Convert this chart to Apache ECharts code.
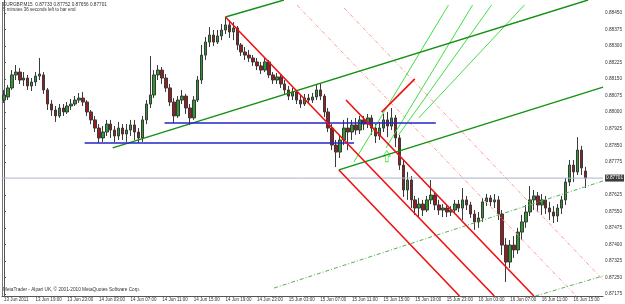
<!DOCTYPE html>
<html>
<head>
<meta charset="utf-8">
<title>EURGBP,M15</title>
<script src="https://cdn.jsdelivr.net/npm/echarts@6.0.0/dist/echarts.min.js"></script>
<style>
  html, body { margin: 0; padding: 0; background: #fff; }
  #chart { width: 625px; height: 304px; }
</style>
</head>
<body>
<div id="chart"></div>
<script>
// time labels every 8 bars
var xLabels = ['13 Jun 2011', '13 Jun 19:00', '13 Jun 23:00', '14 Jun 03:00', '14 Jun 07:00', '14 Jun 11:00',
  '14 Jun 15:00', '14 Jun 19:00', '14 Jun 23:00', '15 Jun 03:00', '15 Jun 07:00', '15 Jun 11:00',
  '15 Jun 15:00', '15 Jun 19:00', '15 Jun 23:00', '16 Jun 03:00', '16 Jun 07:00', '16 Jun 11:00', '16 Jun 15:00']
var yTicks = [0.87175, 0.87250, 0.87325, 0.87400, 0.87475, 0.87550, 0.87625, 0.87775, 0.87850,
  0.87925, 0.88000, 0.88075, 0.88150, 0.88225, 0.88300, 0.88375, 0.88450]

var opens = [
  0.88055, 0.88069, 0.88110, 0.88169, 0.88182, 0.88146, 0.88155, 0.88119, 0.88137, 0.88164,
  0.88169, 0.88101, 0.88037, 0.88010, 0.87983, 0.88019, 0.88001, 0.88028, 0.88037, 0.88055,
  0.88064, 0.88046, 0.88001, 0.87965, 0.87928, 0.87883, 0.87910, 0.87946, 0.87919, 0.87892,
  0.87928, 0.87901, 0.87919, 0.87942, 0.87910, 0.87883, 0.87965, 0.88037, 0.88078, 0.88169,
  0.88191, 0.88155, 0.88110, 0.88046, 0.87983, 0.88055, 0.88073, 0.88019, 0.87974, 0.88055,
  0.88146, 0.88259, 0.88318, 0.88350, 0.88318, 0.88346, 0.88373, 0.88396, 0.88364, 0.88382,
  0.88305, 0.88273, 0.88259, 0.88246, 0.88228, 0.88210, 0.88191, 0.88228, 0.88169, 0.88146,
  0.88160, 0.88128, 0.88101, 0.88073, 0.88092, 0.88055, 0.88037, 0.88064, 0.88055, 0.88069,
  0.88101, 0.88073, 0.88001, 0.87928, 0.87851, 0.87819, 0.87874, 0.87928, 0.87910, 0.87942,
  0.87919, 0.87965, 0.87946, 0.87974, 0.87928, 0.87892, 0.87928, 0.87965, 0.87937, 0.87974,
  0.87883, 0.87760, 0.87647, 0.87692, 0.87602, 0.87565, 0.87583, 0.87556, 0.87602, 0.87624,
  0.87579, 0.87556, 0.87565, 0.87547, 0.87556, 0.87583, 0.87565, 0.87602, 0.87579, 0.87538,
  0.87502, 0.87520, 0.87593, 0.87611, 0.87593, 0.87602, 0.87538, 0.87397, 0.87320, 0.87397,
  0.87375, 0.87456, 0.87502, 0.87547, 0.87602, 0.87620, 0.87579, 0.87602, 0.87565, 0.87547,
  0.87529, 0.87565, 0.87602, 0.87683, 0.87760, 0.87729, 0.87828, 0.87733]
var closes = [
  0.88078, 0.88110, 0.88169, 0.88182, 0.88146, 0.88155, 0.88119, 0.88137, 0.88164, 0.88173,
  0.88101, 0.88037, 0.88010, 0.87983, 0.88019, 0.88001, 0.88028, 0.88037, 0.88055, 0.88064,
  0.88046, 0.88001, 0.87965, 0.87928, 0.87883, 0.87910, 0.87946, 0.87919, 0.87892, 0.87928,
  0.87901, 0.87919, 0.87942, 0.87910, 0.87883, 0.87965, 0.88037, 0.88078, 0.88169, 0.88191,
  0.88155, 0.88110, 0.88046, 0.87983, 0.88055, 0.88073, 0.88019, 0.87974, 0.88055, 0.88146,
  0.88259, 0.88318, 0.88350, 0.88318, 0.88346, 0.88373, 0.88396, 0.88364, 0.88382, 0.88305,
  0.88273, 0.88259, 0.88246, 0.88228, 0.88210, 0.88191, 0.88228, 0.88169, 0.88146, 0.88160,
  0.88128, 0.88101, 0.88073, 0.88092, 0.88055, 0.88037, 0.88064, 0.88055, 0.88069, 0.88101,
  0.88073, 0.88001, 0.87928, 0.87851, 0.87819, 0.87874, 0.87928, 0.87910, 0.87942, 0.87919,
  0.87965, 0.87946, 0.87974, 0.87928, 0.87892, 0.87928, 0.87965, 0.87937, 0.87974, 0.87883,
  0.87760, 0.87647, 0.87692, 0.87602, 0.87565, 0.87583, 0.87556, 0.87602, 0.87624, 0.87579,
  0.87556, 0.87565, 0.87547, 0.87556, 0.87583, 0.87565, 0.87602, 0.87579, 0.87538, 0.87502,
  0.87520, 0.87593, 0.87611, 0.87593, 0.87602, 0.87538, 0.87397, 0.87320, 0.87397, 0.87375,
  0.87456, 0.87502, 0.87547, 0.87602, 0.87620, 0.87579, 0.87602, 0.87565, 0.87547, 0.87529,
  0.87565, 0.87602, 0.87683, 0.87760, 0.87729, 0.87828, 0.87747, 0.87701]
var lows = [
  0.88042, 0.88055, 0.88101, 0.88146, 0.88128, 0.88119, 0.88101, 0.88096, 0.88119, 0.88146,
  0.88083, 0.88010, 0.87983, 0.87956, 0.87974, 0.87983, 0.87992, 0.88010, 0.88028, 0.88042,
  0.88028, 0.87983, 0.87946, 0.87910, 0.87860, 0.87865, 0.87892, 0.87883, 0.87865, 0.87874,
  0.87874, 0.87865, 0.87892, 0.87874, 0.87860, 0.87865, 0.87946, 0.88019, 0.88064, 0.88146,
  0.88128, 0.88092, 0.88028, 0.87951, 0.87974, 0.88037, 0.87992, 0.87942, 0.87965, 0.88046,
  0.88128, 0.88237, 0.88296, 0.88300, 0.88309, 0.88327, 0.88355, 0.88337, 0.88327, 0.88282,
  0.88255, 0.88237, 0.88228, 0.88210, 0.88191, 0.88173, 0.88182, 0.88155, 0.88128, 0.88128,
  0.88110, 0.88083, 0.88055, 0.88055, 0.88037, 0.88019, 0.88028, 0.88037, 0.88042, 0.88055,
  0.88055, 0.87978, 0.87910, 0.87828, 0.87751, 0.87792, 0.87851, 0.87828, 0.87874, 0.87897,
  0.87901, 0.87919, 0.87928, 0.87897, 0.87860, 0.87874, 0.87910, 0.87887, 0.87919, 0.87842,
  0.87738, 0.87615, 0.87602, 0.87565, 0.87534, 0.87524, 0.87529, 0.87547, 0.87583, 0.87556,
  0.87534, 0.87524, 0.87524, 0.87529, 0.87538, 0.87547, 0.87511, 0.87556, 0.87520, 0.87466,
  0.87475, 0.87502, 0.87574, 0.87574, 0.87565, 0.87511, 0.87352, 0.87230, 0.87293, 0.87339,
  0.87357, 0.87420, 0.87475, 0.87529, 0.87556, 0.87547, 0.87534, 0.87538, 0.87511, 0.87497,
  0.87502, 0.87538, 0.87579, 0.87665, 0.87683, 0.87715, 0.87715, 0.87656]
var highs = [
  0.88101, 0.88123, 0.88191, 0.88214, 0.88200, 0.88182, 0.88169, 0.88155, 0.88182, 0.88246,
  0.88182, 0.88110, 0.88055, 0.88028, 0.88037, 0.88037, 0.88046, 0.88060, 0.88073, 0.88087,
  0.88092, 0.88055, 0.88010, 0.87983, 0.87946, 0.87937, 0.87965, 0.87965, 0.87937, 0.87956,
  0.87946, 0.87946, 0.87965, 0.87965, 0.87928, 0.87983, 0.88055, 0.88255, 0.88191, 0.88214,
  0.88205, 0.88173, 0.88128, 0.88064, 0.88073, 0.88101, 0.88083, 0.88037, 0.88073, 0.88164,
  0.88305, 0.88341, 0.88386, 0.88373, 0.88373, 0.88400, 0.88432, 0.88418, 0.88409, 0.88391,
  0.88314, 0.88296, 0.88282, 0.88259, 0.88246, 0.88228, 0.88246, 0.88237, 0.88182, 0.88178,
  0.88173, 0.88146, 0.88119, 0.88110, 0.88101, 0.88078, 0.88083, 0.88083, 0.88087, 0.88123,
  0.88128, 0.88083, 0.88019, 0.87946, 0.87874, 0.87892, 0.87965, 0.87974, 0.87965, 0.87974,
  0.87983, 0.87983, 0.87992, 0.87987, 0.87946, 0.87956, 0.87992, 0.88001, 0.88019, 0.87987,
  0.87897, 0.87783, 0.87729, 0.87710, 0.87620, 0.87611, 0.87602, 0.87620, 0.87692, 0.87638,
  0.87602, 0.87583, 0.87583, 0.87574, 0.87602, 0.87602, 0.87656, 0.87620, 0.87593, 0.87556,
  0.87547, 0.87611, 0.87629, 0.87624, 0.87629, 0.87620, 0.87556, 0.87429, 0.87420, 0.87438,
  0.87475, 0.87534, 0.87579, 0.87665, 0.87647, 0.87638, 0.87629, 0.87620, 0.87593, 0.87574,
  0.87583, 0.87620, 0.87701, 0.87783, 0.87783, 0.87887, 0.87847, 0.87752]
var bidPrice = 0.87701

// objects drawn on the chart: [startBar, startPrice, endBar, endPrice]
var redLines = [
  [56, 0.88432, 124.0, 0.87166],
  [86.5, 0.88055, 134.0, 0.87166],
  [84.7, 0.87738, 115.2, 0.87166],
  [95.5, 0.88000, 103.9, 0.88151]
]
var pinkLines = [
  [74.1, 0.88486, 144.7, 0.87166],
  [86.0, 0.88473, 151.5, 0.87239]
]
var darkGreenLines = [
  [27.5, 0.87838, 147.7, 0.88509],
  [84.7, 0.87738, 151.5, 0.88114],
  [56, 0.88432, 70.8, 0.88509]
]
var lightGreenLines = [
  [88.5, 0.87774, 112.4, 0.88486],
  [96.6, 0.87838, 118.5, 0.88486],
  [99.8, 0.87897, 123.3, 0.88486],
  [104.9, 0.87974, 131.6, 0.88486]
]
var dashGreenLines = [
  [68.3, 0.87202, 151.5, 0.87688],
  [134.4, 0.87166, 151.5, 0.87257]
]
// horizontal lines: [startBar, endBar, price]
var blueLines = [
  [20.4, 88.5, 0.87860],
  [40.6, 109.2, 0.87951]
]
var arrowUp = [[96.8, 0.87801]]

var slots = 152
var categories = []
for (var i = 0; i < slots; i++) categories.push(i)
var candles = opens.map(function (o, i) {
  return [o, closes[i], lows[i], highs[i]]
})

function lineSeries (list, color, width, type) {
  return list.map(function (l) {
    return {
      type: 'line',
      xAxisIndex: 1,
      data: [[l[0], l[1]], [l[2], l[3]]],
      symbol: 'none',
      silent: true,
      lineStyle: { color: color, width: width, type: type }
    }
  })
}

var smallFont = 'Liberation Sans'
var myChart = echarts.init(document.getElementById('chart'))

// bid line first so candles sit on top of it
var series = [{
  type: 'line',
  xAxisIndex: 1,
  data: [[-0.5, bidPrice], [slots - 0.5, bidPrice]],
  symbol: 'none',
  silent: true,
  lineStyle: { color: '#aab4c8', width: 1 },
  endLabel: {
    show: true,
    distance: 2,
    formatter: bidPrice.toFixed(5),
    fontFamily: smallFont,
    fontSize: 4.7,
    color: '#ffffff',
    backgroundColor: '#3c3c3c',
    padding: [1, 1]
  }
}, {
  type: 'candlestick',
  data: candles,
  barWidth: 3,
  itemStyle: {
    color: '#2c9a2c',
    color0: '#9a1c1c',
    borderColor: '#3a3a3a',
    borderColor0: '#3a3a3a',
    borderWidth: 1
  }
}]
series = series
  .concat(lineSeries(pinkLines, '#ff9a9a', 1, [4, 2, 1, 2]))
  .concat(lineSeries(dashGreenLines, '#55b055', 1, [4, 2, 1, 2]))
  .concat(lineSeries(lightGreenLines, '#44dd44', 1, 'solid'))
  .concat(lineSeries(darkGreenLines, '#139013', 1.4, 'solid'))
  .concat(lineSeries(blueLines.map(function (b) { return [b[0], b[2], b[1], b[2]] }), '#2424c8', 1.4, 'solid'))
  .concat(lineSeries(redLines, '#f01010', 1.6, 'solid'))
series.push({
  type: 'scatter',
  xAxisIndex: 1,
  data: arrowUp,
  silent: true,
  symbol: 'path://M5,0 L10,6 L7,6 L7,12 L3,12 L3,6 L0,6 Z',
  symbolSize: [7, 11],
  itemStyle: { color: 'rgba(0,0,0,0)', borderColor: '#44dd44', borderWidth: 1 }
})

var option = {
  backgroundColor: '#ffffff',
  animation: false,
  grid: { left: 2, right: 20, top: 0, bottom: 8 },
  xAxis: [{
    type: 'category',
    data: categories,
    boundaryGap: true,
    axisLine: { lineStyle: { color: '#555555', width: 1 } },
    axisTick: {
      interval: function (idx) { return idx % 8 === 0 },
      alignWithLabel: true,
      length: 2,
      lineStyle: { color: '#555555' }
    },
    axisLabel: {
      interval: function (idx) { return idx % 8 === 0 },
      formatter: function (v, idx) { return xLabels[idx / 8] || '' },
      align: 'left',
      margin: 1,
      fontFamily: smallFont,
      fontSize: 4.5,
      color: '#333333'
    },
    splitLine: { show: false }
  }, {
    type: 'value',
    min: -0.5,
    max: slots - 0.5,
    show: false
  }],
  yAxis: {
    type: 'value',
    position: 'right',
    min: 0.87166,
    max: 0.88509,
    scale: true,
    axisLine: { show: true, lineStyle: { color: '#555555', width: 1 } },
    axisTick: { show: true, customValues: yTicks, length: 2, lineStyle: { color: '#555555' } },
    axisLabel: {
      customValues: yTicks,
      formatter: function (v) { return v.toFixed(5) },
      margin: 2,
      fontFamily: smallFont,
      fontSize: 4.7,
      color: '#333333'
    },
    splitLine: { show: false }
  },
  graphic: [
    { type: 'line', shape: { x1: 2.5, y1: 2, x2: 2.5, y2: 296 }, style: { stroke: '#777777', lineWidth: 1 } },
    { type: 'text', left: 3, top: 2, style: { text: 'EURGBP,M15  0.87733 0.87752 0.87656 0.87701', fontFamily: smallFont, fontSize: 4.7, fill: '#333333' } },
    { type: 'text', left: 3, top: 7, style: { text: '5 minutes 36 seconds left to bar end', fontFamily: smallFont, fontSize: 4.5, fill: '#333333' } },
    { type: 'text', left: 3, top: 287, style: { text: 'MetaTrader - Alpari UK, © 2001-2010 MetaQuotes Software Corp.', fontFamily: smallFont, fontSize: 4.7, fill: '#333333' } }
  ],
  series: series
}

myChart.setOption(option)
</script>
</body>
</html>
